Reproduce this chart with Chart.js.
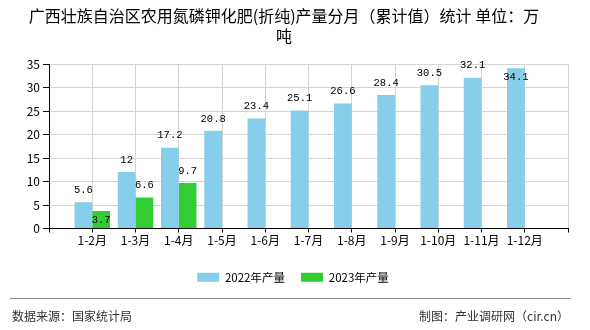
<!DOCTYPE html>
<html>
<head>
<meta charset="utf-8">
<script src="https://cdn.jsdelivr.net/npm/chart.js@4/dist/chart.umd.min.js"></script>
<style>
  html, body { margin: 0; padding: 0; background: #fff; }
  #wrap { position: relative; width: 590px; height: 330px; }
  #foot-line { position: absolute; left: 10px; top: 298px; width: 561px; height: 0; border-top: 1px solid #888; }
  .foot { position: absolute; top: 308px; font: 12px "Noto Sans CJK SC", sans-serif; color: #333; line-height: 16px; white-space: nowrap; }
</style>
</head>
<body>
<div id="wrap">
  <canvas id="c" width="590" height="330"></canvas>
  <div id="foot-line"></div>
  <div class="foot" style="left:12px">数据来源：国家统计局</div>
  <div class="foot" style="right:21px">制图：产业调研网（cir.cn）</div>
</div>
<script>
// Monthly cumulative output, 10k tonnes
const categories = ['1-2月', '1-3月', '1-4月', '1-5月', '1-6月', '1-7月', '1-8月', '1-9月', '1-10月', '1-11月', '1-12月'];
const output2022 = [5.6, 12, 17.2, 20.8, 23.4, 25.1, 26.6, 28.4, 30.5, 32.1, 34.1];
const output2023 = [3.7, 6.6, 9.7];
const seriesNames = ['2022年产量', '2023年产量'];
const yMax = 35;
const yStep = 5;
const titleLines = ['广西壮族自治区农用氮磷钾化肥(折纯)产量分月（累计值）统计 单位：万', '吨'];

const FONT = '"Noto Sans CJK SC", sans-serif';
Chart.defaults.font.family = FONT;

// one empty slot on each side of the month axis
const axisLabels = [''].concat(categories, ['']);
const pad = arr => [null].concat(categories.map((_, i) => (arr[i] === undefined ? null : arr[i])), [null]);

// value labels above each bar; pushed inside the bar when they would
// leave the plot or collide with a label already drawn
const valueLabels = {
  id: 'valueLabels',
  afterDatasetsDraw(chart) {
    const { ctx, chartArea } = chart;
    ctx.save();
    ctx.font = '10.5px "Liberation Mono", monospace';
    ctx.fillStyle = '#000';
    ctx.textAlign = 'center';
    ctx.textBaseline = 'middle';
    const placed = [];
    const h = 10;
    chart.data.datasets.forEach((ds, di) => {
      const meta = chart.getDatasetMeta(di);
      meta.data.forEach((bar, i) => {
        const v = ds.data[i];
        if (v === null || v === undefined) return;
        const text = String(v);
        const w = ctx.measureText(text).width;
        const box = yy => ({ l: bar.x - w / 2 - 2, r: bar.x + w / 2 + 2, t: yy - h / 2, b: yy + h / 2 });
        const hits = b => placed.some(p => b.l < p.r && b.r > p.l && b.t < p.b && b.b > p.t);
        let y = bar.y - 12;
        if (y < chartArea.top || hits(box(y))) y = bar.y + 9;
        placed.push(box(y));
        ctx.fillText(text, bar.x, y);
      });
    });
    ctx.restore();
  }
};

// centre the legend on the whole canvas rather than the padded layout box
const legendCentre = {
  id: 'legendCentre',
  afterLayout(chart) {
    const lg = chart.legend;
    if (!lg) return;
    const shift = chart.width / 2 - 2 - (lg.left + lg.right) / 2;
    lg.left += shift;
    lg.right += shift;
  }
};

new Chart(document.getElementById('c'), {
  type: 'bar',
  data: {
    labels: axisLabels,
    datasets: [
      { label: seriesNames[0], data: pad(output2022), backgroundColor: '#87CEEB', borderWidth: 0,
        categoryPercentage: 0.82, barPercentage: 1.0 },
      { label: seriesNames[1], data: pad(output2023), backgroundColor: '#32CD32', borderWidth: 0,
        categoryPercentage: 0.82, barPercentage: 1.0 }
    ]
  },
  options: {
    responsive: false,
    animation: false,
    layout: { padding: { left: 0, right: 22, top: 0, bottom: 37 } },
    plugins: {
      title: {
        display: true,
        text: titleLines,
        color: '#000',
        font: { family: FONT, size: 16, weight: 'normal', lineHeight: 1.25 },
        padding: { top: 6, bottom: 18 }
      },
      legend: {
        position: 'bottom',
        labels: { boxWidth: 22, boxHeight: 9, padding: 16, color: '#000', font: { family: FONT, size: 11.5 } }
      },
      tooltip: { enabled: false }
    },
    scales: {
      x: {
        offset: false,
        grid: { offset: false, color: '#d4d4d4', tickColor: '#000', tickLength: 4 },
        border: { color: '#000' },
        ticks: { color: '#000', font: { size: 12 }, padding: 1, maxRotation: 0, autoSkip: false },
        afterFit(s) { s.height += 6.6; }
      },
      y: {
        min: 0,
        max: yMax,
        ticks: { stepSize: yStep, color: '#000', font: { size: 12 }, padding: 3 },
        grid: { color: '#d4d4d4', tickColor: '#000', tickLength: 6 },
        border: { color: '#000' },
        afterFit(s) { s.width = 49; }
      }
    }
  },
  plugins: [valueLabels, legendCentre]
});
</script>
</body>
</html>
